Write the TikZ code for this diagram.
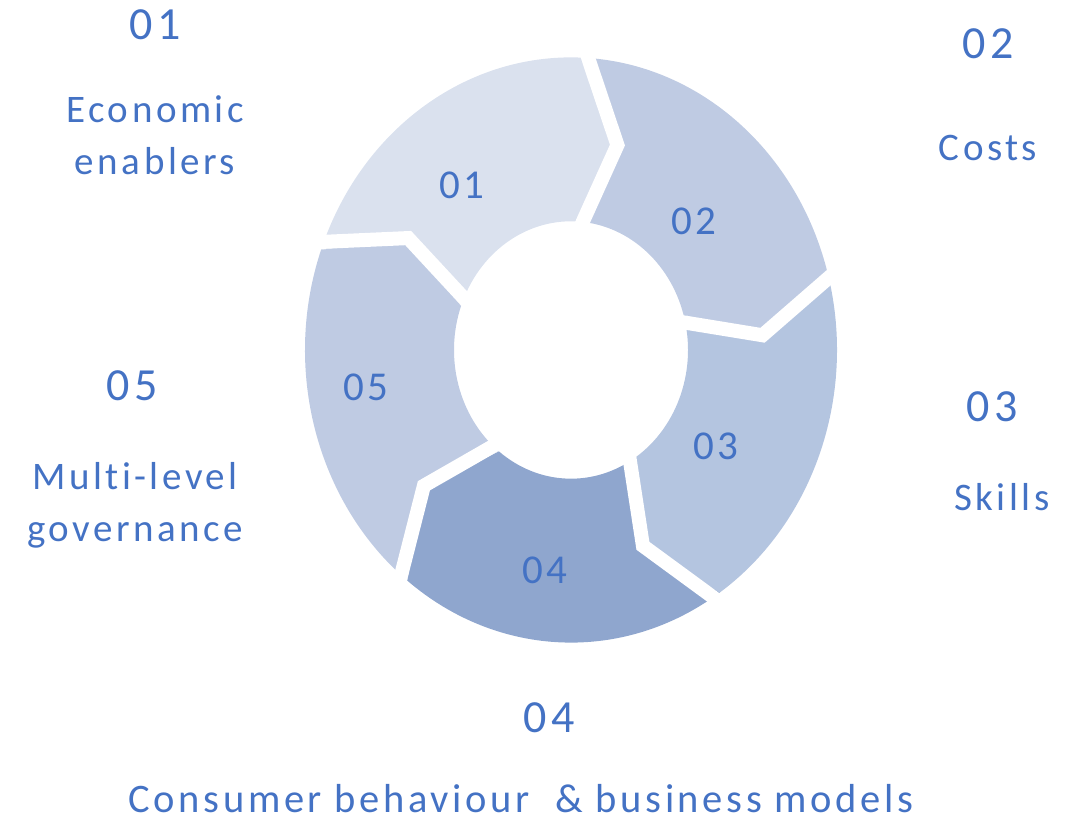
\documentclass[tikz,border=0pt]{standalone}
\usepackage{fontspec}
\setmainfont{Carlito}
\newfontfamily\spaced[LetterSpace=9,Ligatures={NoCommon}]{Carlito}
\usepackage{tikz}
\definecolor{txtblue}{HTML}{4472C4}
\definecolor{segA}{HTML}{DAE1EE}
\definecolor{segB}{HTML}{BFCBE3}
\definecolor{segC}{HTML}{B4C5E0}
\definecolor{segD}{HTML}{8FA6CE}
\tikzset{
    %Define style for ring segments
    seg/.style={
           draw=none},
    %Define style for white gaps between segments
    gap/.style={
           draw=white,
           line width=14pt,
           line join=miter},
    %Define style for the numbers
    num/.style={
           text=txtblue,
           inner sep=0pt,
           font=\spaced\fontsize{46}{50}\selectfont},
    innum/.style={
           text=txtblue,
           inner sep=0pt,
           font=\spaced\fontsize{41}{44}\selectfont},
    %Define style for the labels
    lbl/.style={
           text=txtblue,
           inner sep=0pt,
           align=center,
           font=\spaced\fontsize{39}{52}\selectfont}
}
\begin{document}
\begin{tikzpicture}[x=1pt,y=1pt]
\useasboundingbox (0,0) rectangle (1082,821);
\begin{scope}[shift={(571,471)},yscale=1.1]
% ring segments
\foreach \s/\col in {160/segA,88/segB,16/segC,-56/segD,-128/segB}{
  \pgfmathsetmacro{\e}{\s-72}
  \fill[seg,\col] (\s:266) arc[start angle=\s, end angle=\e, radius=266]
     -- (\e-12:192) -- (\e:117) arc[start angle=\e, end angle=\s, radius=117]
     -- (\s-12:192) -- cycle;
}
% gaps
\foreach \g in {160,88,16,-56,-128}{
  \draw[gap] (\g:285) -- (\g-12:192) -- (\g:100);
}
\end{scope}
% numbers in the ring
\node[innum] (n1) at (462,636) {01};
\node[innum] (n2) at (694,600) {02};
\node[innum] (n3) at (716,375) {03};
\node[innum] (n4) at (545,251) {04};
\node[innum] (n5) at (366,434) {05};
% outer numbers and labels
\node[num] (o1) at (155,796) {01};
\node[lbl] (l1) at (155,686) {Economic\\enablers};
\node[num] (o2) at (988,777) {02};
\node[lbl] (l2) at (988,673) {Costs};
\node[num] (o3) at (992,414) {03};
\node[lbl] (l3) at (1002,324) {Skills};
\node[num] (o4) at (549,103) {04};
\node[lbl,font=\spaced\fontsize{40.5}{52}\selectfont] (l4) at (521,22) {Consumer behaviour\ \ \& business models};
\node[num] (o5) at (132,435) {05};
\node[lbl] (l5) at (135,316) {Multi-level\\governance};
\end{tikzpicture}
\end{document}
